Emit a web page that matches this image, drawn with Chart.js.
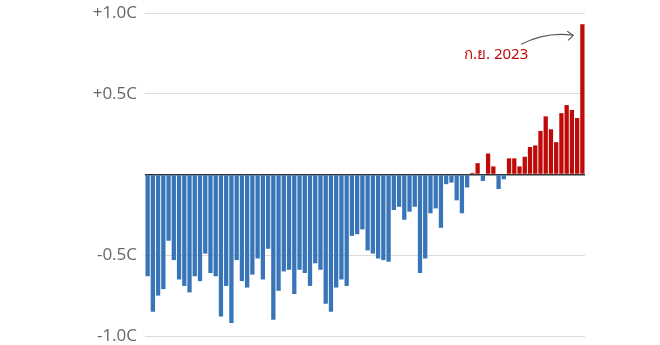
<!DOCTYPE html>
<html lang="th">
<head>
  <meta charset="UTF-8" />
  <title>September temperature anomaly</title>
  <script src="https://cdn.jsdelivr.net/npm/chart.js"></script>
  <style>
    body { margin: 0; background: #fff; }
    canvas { display: block; }
  </style>
</head>
<body>
<canvas id="chart" width="660" height="345"></canvas>
<script>
const years = [
  1940, 1941, 1942, 1943, 1944, 1945, 1946, 1947, 1948, 1949,
  1950, 1951, 1952, 1953, 1954, 1955, 1956, 1957, 1958, 1959,
  1960, 1961, 1962, 1963, 1964, 1965, 1966, 1967, 1968, 1969,
  1970, 1971, 1972, 1973, 1974, 1975, 1976, 1977, 1978, 1979,
  1980, 1981, 1982, 1983, 1984, 1985, 1986, 1987, 1988, 1989,
  1990, 1991, 1992, 1993, 1994, 1995, 1996, 1997, 1998, 1999,
  2000, 2001, 2002, 2003, 2004, 2005, 2006, 2007, 2008, 2009,
  2010, 2011, 2012, 2013, 2014, 2015, 2016, 2017, 2018, 2019,
  2020, 2021, 2022, 2023
];
// anomaly in C
const anomalies = [
  -0.63, -0.85, -0.75, -0.71, -0.41, -0.53, -0.65, -0.69, -0.73, -0.63,
  -0.66, -0.49, -0.61, -0.63, -0.88, -0.69, -0.92, -0.53, -0.66, -0.70,
  -0.62, -0.52, -0.65, -0.46, -0.90, -0.72, -0.60, -0.59, -0.74, -0.59,
  -0.61, -0.69, -0.55, -0.59, -0.80, -0.85, -0.70, -0.65, -0.69, -0.38,
  -0.37, -0.34, -0.47, -0.49, -0.52, -0.53, -0.54, -0.22, -0.20, -0.28,
  -0.23, -0.20, -0.61, -0.52, -0.24, -0.21, -0.33, -0.06, -0.05, -0.16,
  -0.24, -0.08, 0.01, 0.07, -0.04, 0.13, 0.05, -0.09, -0.03, 0.10,
  0.10, 0.05, 0.11, 0.17, 0.18, 0.27, 0.36, 0.28, 0.20, 0.38,
  0.43, 0.40, 0.35, 0.93
];
const tickValues = [-1, -0.5, 0, 0.5, 1];
const tickLabels = ['-1.0C', '-0.5C', '', '+0.5C', '+1.0C'];
const noteText = 'ก.ย. 2023';

const blue = '#3874b8';
const red = '#c00a0a';

const notePlugin = {
  id: 'note',
  afterDatasetsDraw(chart) {
    const meta = chart.getDatasetMeta(0);
    const last = meta.data[meta.data.length - 1];
    const bx = last.x - last.width / 2;
    const by = last.y;
    const ctx = chart.ctx;
    ctx.save();
    // curved arrow
    ctx.strokeStyle = '#555';
    ctx.lineWidth = 1.1;
    const tx = bx - 7, ty = by + 11;
    ctx.beginPath();
    ctx.moveTo(bx - 59, by + 20);
    ctx.quadraticCurveTo(bx - 34, by + 7, tx, ty);
    ctx.stroke();
    ctx.beginPath();
    ctx.moveTo(tx - 6, ty - 4);
    ctx.lineTo(tx, ty);
    ctx.lineTo(tx - 5, ty + 5);
    ctx.stroke();
    // label
    ctx.fillStyle = red;
    ctx.font = '15px "Noto Sans", "DejaVu Sans", sans-serif';
    ctx.textAlign = 'right';
    ctx.textBaseline = 'middle';
    ctx.fillText(noteText, bx - 52, by + 30);
    ctx.restore();
  }
};

new Chart(document.getElementById('chart'), {
  type: 'bar',
  data: {
    labels: years,
    datasets: [{
      data: anomalies,
      backgroundColor: anomalies.map(v => v >= 0 ? red : blue),
      barPercentage: 0.82,
      categoryPercentage: 1.0
    }]
  },
  options: {
    responsive: false,
    animation: false,
    events: [],
    layout: { padding: { top: 13, right: 75, bottom: 9, left: 0 } },
    plugins: { legend: { display: false }, tooltip: { enabled: false } },
    scales: {
      x: { display: false },
      y: {
        min: -1, max: 1,
        afterFit(s) {
          s.width = 145;
          s.paddingTop = 0;
          s.paddingBottom = 0;
        },
        afterBuildTicks(s) { s.ticks = tickValues.map(v => ({ value: v })); },
        border: { display: false },
        grid: {
          drawTicks: false,
          color: c => c.tick.value === 0 ? '#333' : '#dcdcdc',
          lineWidth: c => c.tick.value === 0 ? 1.5 : 1
        },
        ticks: {
          padding: 8,
          color: '#666',
          font: { family: '"Open Sans", sans-serif', size: 17 },
          callback: (v, i) => tickLabels[tickValues.indexOf(v)]
        }
      }
    }
  },
  plugins: [notePlugin]
});
</script>
</body>
</html>
